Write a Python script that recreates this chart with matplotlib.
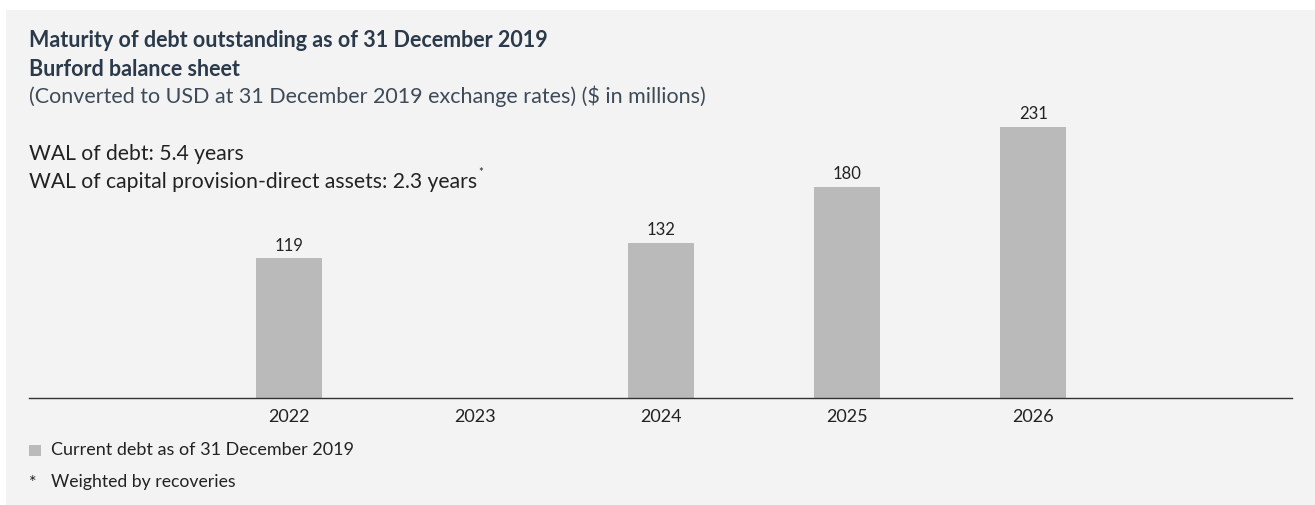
import matplotlib
matplotlib.use("Agg")
import matplotlib.pyplot as plt
from matplotlib.patches import Rectangle

years = ["2022", "2023", "2024", "2025", "2026"]
debt = [119, 0, 132, 180, 231]
value_labels = ["119", "", "132", "180", "231"]

title = "Maturity of debt outstanding as of 31 December 2019"
subtitle1 = "Burford balance sheet"
subtitle2 = "(Converted to USD at 31 December 2019 exchange rates) ($ in millions)"
note1 = "WAL of debt: 5.4 years"
note2 = "WAL of capital provision-direct assets: 2.3 years"
legend_label = "Current debt as of 31 December 2019"
footnote = "Weighted by recoveries"

W, H = 1315, 505
plt.rcParams['font.family'] = ['Lato', 'DejaVu Sans']
fig = plt.figure(figsize=(W / 100, H / 100), dpi=100, facecolor="white")

BG = "#f3f3f3"
BAR = "#bababa"
TITLE_C = "#2b3a4a"
SUB_C = "#3d4b58"
TXT = "#222222"

# panel
panel = Rectangle((6 / W, 0), 1 - 6 / W, (H - 10) / H,
                  transform=fig.transFigure, facecolor=BG,
                  edgecolor="none", zorder=-10)
fig.add_artist(panel)

def fx(px):
    return px / W

def fy(py):
    return 1 - py / H

# axes: baseline at y=398, top (231) at y=127, x from 29 to 1292
ax = fig.add_axes([fx(29), fy(398), fx(1292 - 29), (398 - 127) / H])
ax.set_facecolor("none")
ax.set_zorder(1)
x = list(range(len(years)))
ax.bar(x, debt, width=0.355, color=BAR, zorder=2)
ax.set_xlim(-1.4, 5.39)
ax.set_ylim(0, 231)
for xi, v, lab in zip(x, debt, value_labels):
    if lab:
        ax.text(xi, v + 4, lab, ha="center", va="bottom", fontsize=12,
                color=TXT, clip_on=False)
for s in ["top", "right", "left"]:
    ax.spines[s].set_visible(False)
ax.spines["bottom"].set_color("#333333")
ax.spines["bottom"].set_linewidth(1.0)
ax.set_yticks([])
ax.set_xticks(x)
ax.set_xticklabels(years, fontsize=13, color=TXT)
ax.tick_params(axis="x", length=0, pad=8)

FS = 15.5
# texts
fig.text(fx(29), fy(47), title, fontsize=FS, fontweight="bold", color=TITLE_C,
         va="baseline", ha="left")
fig.text(fx(29), fy(76), subtitle1, fontsize=FS, fontweight="bold", color=TITLE_C,
         va="baseline", ha="left")
fig.text(fx(29), fy(103), subtitle2, fontsize=FS, color=SUB_C,
         va="baseline", ha="left")
fig.text(fx(29), fy(160), note1, fontsize=15.2, color=TXT, va="baseline", ha="left")
t = fig.text(fx(29), fy(188), note2, fontsize=15.2, color=TXT, va="baseline", ha="left")
fig.canvas.draw()
bb = t.get_window_extent()
fig.text(bb.x1 / W + 1 / W, fy(176), "*", fontsize=8, color=TXT,
         va="baseline", ha="left")

# legend
fig.add_artist(Rectangle((fx(29), fy(456)), 12 / W, 11 / H,
                         transform=fig.transFigure, facecolor=BAR,
                         edgecolor="none"))
fig.text(fx(51), fy(455), legend_label, fontsize=13, color=TXT,
         va="baseline", ha="left")
fig.text(fx(29), fy(488), "*", fontsize=13, color=TXT, va="baseline", ha="left")
fig.text(fx(51), fy(487), footnote, fontsize=12.7, color=TXT,
         va="baseline", ha="left")

fig.savefig("out.png", dpi=100, facecolor="white")
